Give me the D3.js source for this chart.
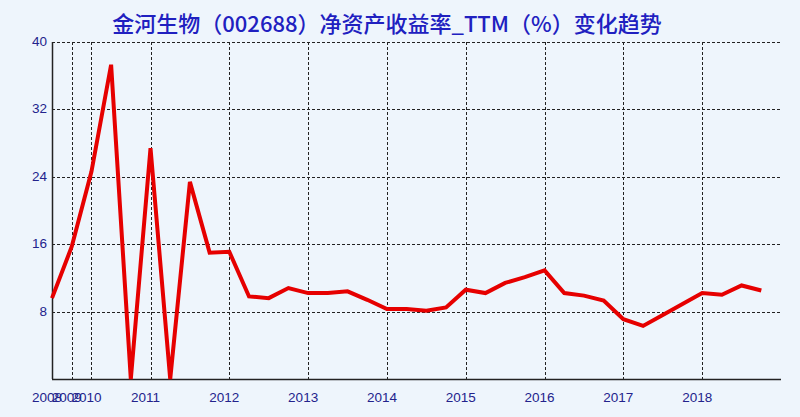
<!DOCTYPE html>
<head>
<meta charset="utf-8">
<title>金河生物 ROE TTM</title>
<script src="https://d3js.org/d3.v7.min.js"></script>
<style type="text/css">
body { margin: 0; background: #eef5fc; }
svg { display: block; }
</style>
</head>

<body>

<script type="text/javascript">

// chart title
const title = "金河生物（002688）净资产收益率_TTM（%）变化趋势";

// report periods (x categories)
const periods = ["2008-12", "2009-12", "2010-06", "2010-09", "2010-12",
    "2011-03", "2011-06", "2011-09", "2011-12",
    "2012-03", "2012-06", "2012-09", "2012-12",
    "2013-03", "2013-06", "2013-09", "2013-12",
    "2014-03", "2014-06", "2014-09", "2014-12",
    "2015-03", "2015-06", "2015-09", "2015-12",
    "2016-03", "2016-06", "2016-09", "2016-12",
    "2017-03", "2017-06", "2017-09", "2017-12",
    "2018-03", "2018-06", "2018-09", "2018-12"];

// ROE TTM, percent
const roe = [9.6, 15.7, 24.6, 37.3, 0,
    27.4, 0, 23.4, 15.0,
    15.1, 9.8, 9.6, 10.8,
    10.2, 10.2, 10.4, 9.4,
    8.3, 8.3, 8.1, 8.5,
    10.6, 10.2, 11.4, 12.1,
    12.9, 10.2, 9.9, 9.3,
    7.1, 6.3, 7.6, 8.9,
    10.2, 10.0, 11.1, 10.5];

// y tick labels
const yTicks = [8, 16, 24, 32, 40];

// sizes
const svgW = 800, svgH = 417;
const plotL = 52, plotR = 781, plotT = 42, plotB = 379;

const svg = d3.select("body").append("svg")
    .attr("width", svgW)
    .attr("height", svgH);

svg.append("rect").attr("width", svgW).attr("height", svgH).attr("fill", "#eef5fc");

// scales - x is by index, one extra slot on the right
const x = d3.scaleLinear().domain([0, periods.length]).range([plotL, plotR]);
const y = d3.scaleLinear().domain([0, 40]).range([plotB, plotT]);

// year ticks: first period of every year
const yearTicks = [];
periods.forEach((p, i) => {
    const yr = p.slice(0, 4);
    if (!yearTicks.length || yearTicks[yearTicks.length - 1].year !== yr) {
        yearTicks.push({year: yr, i: i});
    }
});

// horizontal grid
svg.append("g")
    .selectAll("line")
    .data(yTicks)
    .enter().append("line")
    .attr("x1", plotL).attr("x2", plotR)
    .attr("y1", d => Math.round(y(d)) + 0.5).attr("y2", d => Math.round(y(d)) + 0.5)
    .attr("stroke", "#222")
    .attr("stroke-width", 1)
    .attr("stroke-dasharray", "3,2");

// vertical grid
svg.append("g")
    .selectAll("line")
    .data(yearTicks.slice(1))
    .enter().append("line")
    .attr("x1", d => Math.round(x(d.i)) + 0.5).attr("x2", d => Math.round(x(d.i)) + 0.5)
    .attr("y1", plotT).attr("y2", plotB)
    .attr("stroke", "#222")
    .attr("stroke-width", 1)
    .attr("stroke-dasharray", "3,2");

// axes lines
svg.append("line")
    .attr("x1", plotL + 0.5).attr("x2", plotL + 0.5)
    .attr("y1", plotT).attr("y2", plotB)
    .attr("stroke", "#222").attr("stroke-width", 1.5);
svg.append("line")
    .attr("x1", plotL).attr("x2", plotR)
    .attr("y1", plotB + 0.5).attr("y2", plotB + 0.5)
    .attr("stroke", "#222").attr("stroke-width", 1.5);

// y labels
svg.append("g")
    .selectAll("text")
    .data(yTicks)
    .enter().append("text")
    .attr("x", 47)
    .attr("y", d => y(d) + 4)
    .attr("text-anchor", "end")
    .attr("font-family", "'Liberation Sans', Arial, sans-serif")
    .attr("font-size", 13.5)
    .attr("fill", "#23238c")
    .text(d => d);

// x labels (2008-2010 overlap in the original too)
svg.append("g")
    .selectAll("text")
    .data(yearTicks)
    .enter().append("text")
    .attr("x", d => x(d.i) - 5)
    .attr("y", 402)
    .attr("text-anchor", "middle")
    .attr("font-family", "'Liberation Sans', Arial, sans-serif")
    .attr("font-size", 13.5)
    .attr("fill", "#23238c")
    .text(d => d.year);

// the line
const line = d3.line()
    .x((d, i) => x(i))
    .y(d => y(d));

svg.append("path")
    .datum(roe)
    .attr("d", line)
    .attr("fill", "none")
    .attr("stroke", "#e60000")
    .attr("stroke-width", 4);

// title
svg.append("text")
    .attr("x", 387)
    .attr("y", 32)
    .attr("text-anchor", "middle")
    .attr("font-family", "'Noto Sans CJK SC', sans-serif")
    .attr("font-size", 22)
    .attr("font-weight", 500)
    .attr("fill", "#2020c0")
    .text(title);

</script>
</body>
